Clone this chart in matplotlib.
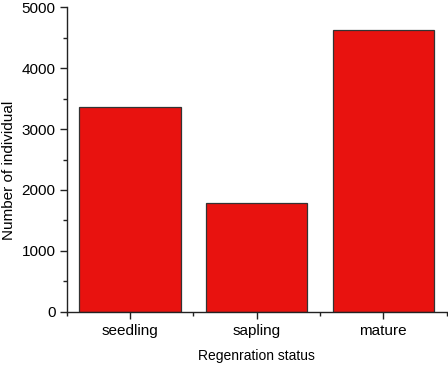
import matplotlib
matplotlib.use("Agg")
import matplotlib.pyplot as plt
from matplotlib.ticker import MultipleLocator, FixedLocator

categories = ["seedling", "sapling", "mature"]
values = [3360, 1790, 4635]

plt.rcParams['font.family'] = ['Liberation Sans', 'DejaVu Sans']

fig = plt.figure(figsize=(4.48, 3.66), dpi=100)
ax = fig.add_axes([66.5/448, 1 - 311.7/366, (446.5-66.5)/448, (311.7-7.3)/366])

x = list(range(1, len(categories) + 1))
ax.bar(x, values, width=0.8, color="#E8120F", edgecolor="#333333", linewidth=0.9)

ax.set_xlim(0.5, 3.5)
ax.set_ylim(0, 5000)
ax.set_xticks(x)
ax.set_xticklabels(categories)
ax.xaxis.set_minor_locator(FixedLocator([0.5, 1.5, 2.5, 3.5]))
ax.yaxis.set_major_locator(MultipleLocator(1000))
ax.yaxis.set_minor_locator(MultipleLocator(500))

for s in ["top", "right"]:
    ax.spines[s].set_visible(False)
for s in ["left", "bottom"]:
    ax.spines[s].set_linewidth(1.0)
    ax.spines[s].set_color("#222222")

ax.tick_params(which="major", direction="out", length=5, width=1, labelsize=11, colors="#222222", labelcolor="black", pad=2.8)
ax.tick_params(which="minor", direction="out", length=3, width=1, colors="#222222")
ax.tick_params(axis="x", which="major", pad=4)

ax.set_ylabel("Number of individual", fontsize=11)
ax.yaxis.set_label_coords((16 - 66.5) / 380, (311.7 - 170) / 304.4)
ax.set_xlabel("Regenration status", fontsize=10, labelpad=8)

fig.savefig("out.png", dpi=100)
